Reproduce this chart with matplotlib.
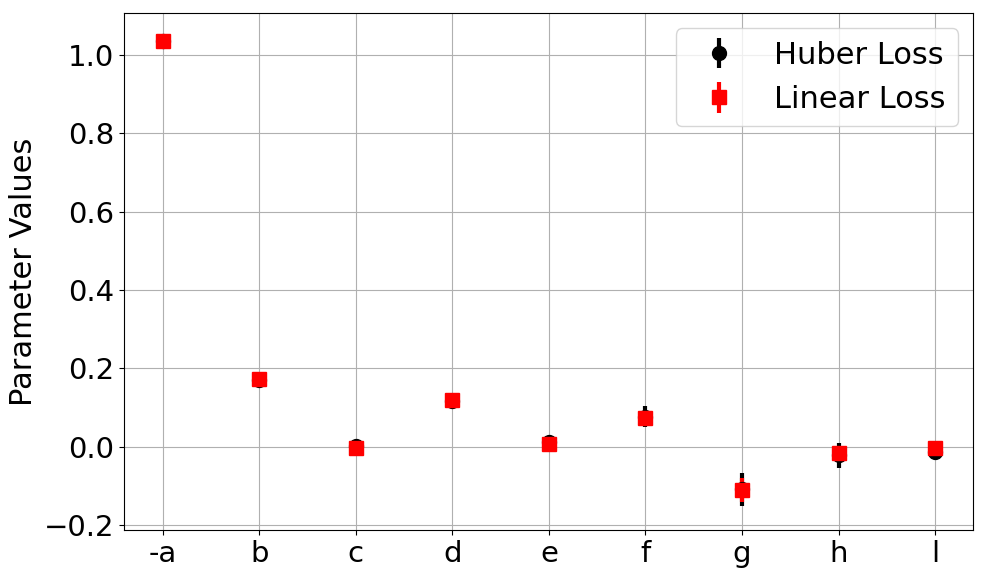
import matplotlib
matplotlib.use("Agg")
import matplotlib.pyplot as plt
import numpy as np

# parameter names and fitted values
params      = ["-a", "b", "c", "d", "e", "f", "g", "h", "l"]
huber_vals  = [1.036, 0.170, 0.003, 0.117, 0.012, 0.077, -0.108, -0.022, -0.013]
huber_errs  = [0.004, 0.004, 0.004, 0.005, 0.005, 0.026, 0.042, 0.032, 0.005]
linear_vals = [1.037, 0.173, -0.003, 0.119, 0.007, 0.073, -0.110, -0.016, -0.003]
linear_errs = [0.003, 0.003, 0.003, 0.004, 0.004, 0.012, 0.030, 0.014, 0.004]

x = np.arange(len(params))

fig, ax = plt.subplots(figsize=(9.82, 5.74), dpi=100)
ax.errorbar(x, huber_vals, yerr=huber_errs, fmt="o", color="black",
            markersize=10, elinewidth=3, label="Huber Loss")
ax.errorbar(x, linear_vals, yerr=linear_errs, fmt="s", color="red",
            markersize=10, elinewidth=3, label="Linear Loss")

ax.set_xticks(x)
ax.set_xticklabels(params)
ax.set_ylim(-0.212, 1.107)
ax.set_xlim(-0.404, 8.394)
ax.tick_params(labelsize=21)
ax.set_ylabel("Parameter Values", fontsize=22)
ax.grid(True)
ax.set_axisbelow(True)
ax.legend(fontsize=22, loc="upper right")

fig.subplots_adjust(left=0.126, right=0.991, top=0.977, bottom=0.077)
fig.savefig("out.png", dpi=100)
